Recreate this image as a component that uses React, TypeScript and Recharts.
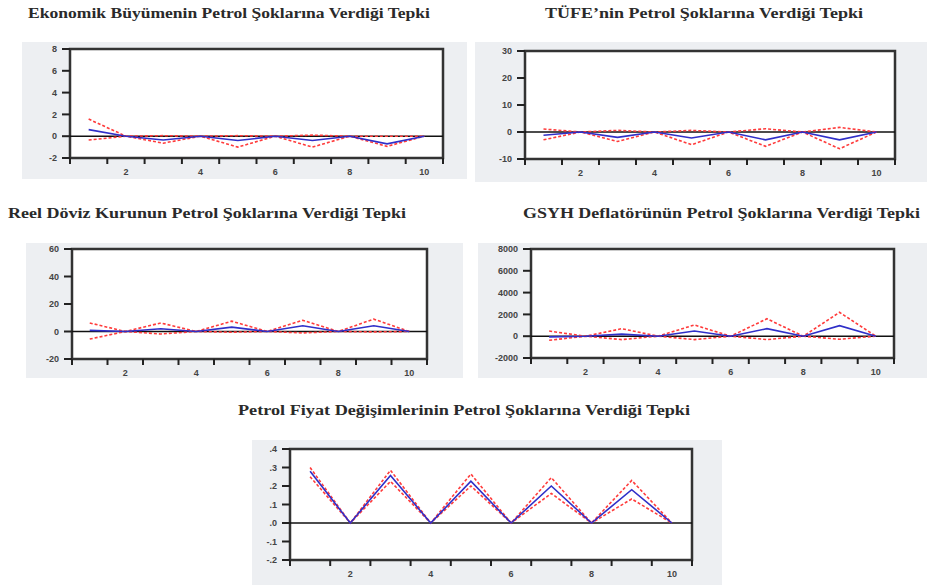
import React from "react";
import {
    LineChart,
    Line,
    XAxis,
    YAxis,
    ReferenceLine,
    ReferenceArea,
} from "recharts";

// periods 1..10
const periods = [1, 2, 3, 4, 5, 6, 7, 8, 9, 10];

// Ekonomik büyüme
const gdpResp = [0.6, 0, -0.35, 0, -0.4, 0, -0.4, 0, -0.7, 0];
const gdpUpper = [1.57, 0, 0.05, 0, 0.05, 0, 0.1, 0, 0.0, 0];
const gdpLower = [-0.35, 0, -0.64, 0, -1.0, 0, -1.0, 0, -0.93, 0];
const gdpTicks = [-2, 0, 2, 4, 6, 8];

// TÜFE
const cpiResp = [-1.2, 0, -2, 0, -2.2, 0, -2.9, 0, -2.9, 0];
const cpiUpper = [1.1, 0, 0.6, 0, 0.6, 0, 1.2, 0, 1.7, 0];
const cpiLower = [-2.9, 0, -3.5, 0, -4.7, 0, -5.3, 0, -6.2, 0];
const cpiTicks = [-10, 0, 10, 20, 30];

// Reel döviz kuru
const reerResp = [0.8, 0, 2, 0, 3.2, 0, 4.2, 0, 4.2, 0];
const reerUpper = [6.2, 0, 6.2, 0, 7.5, 0, 8.2, 0, 9, 0];
const reerLower = [-5.5, 0, -1.8, 0, -0.5, 0, -1, 0, -0.3, 0];
const reerTicks = [-20, 0, 20, 40, 60];

// GSYH deflatörü
const deflResp = [-60, 0, 190, 0, 470, 0, 690, 0, 970, 0];
const deflUpper = [470, 0, 690, 0, 1030, 0, 1600, 0, 2190, 0];
const deflLower = [-375, 0, -310, 0, -310, 0, -310, 0, -280, 0];
const deflTicks = [-2000, 0, 2000, 4000, 6000, 8000];

// Petrol fiyat değişimleri
const oilResp = [0.28, 0, 0.257, 0, 0.226, 0, 0.2, 0, 0.18, 0];
const oilUpper = [0.3, 0, 0.285, 0, 0.265, 0, 0.245, 0, 0.23, 0];
const oilLower = [0.25, 0, 0.225, 0, 0.2, 0, 0.16, 0, 0.13, 0];
const oilTicks = [-0.2, -0.1, 0, 0.1, 0.2, 0.3, 0.4];

const xTicks = [0.5, 1.5, 2, 2.5, 3.5, 4, 4.5, 5.5, 6, 6.5, 7.5, 8, 8.5, 9.5, 10, 10.5];

const BOX_BG = "#edeff2";
const TITLE_FONT = "'Times New Roman', Tinos, 'Liberation Serif', 'DejaVu Serif', serif";

const XTick = (props: any) => {
    const { x, y, payload } = props;
    if (Number.isInteger(payload.value)) {
        return (
            <text x={x} y={y + 17} textAnchor="middle" fontSize={9} fontWeight="bold" fill="#444" fontFamily="Arial, sans-serif">
                {payload.value}
            </text>
        );
    }
    return <line x1={x} x2={x} y1={y} y2={y + 6} stroke="#222" strokeWidth={2} />;
};

type PanelProps = {
    title: string;
    titleX: number;
    titleY: number;
    titleW: number;
    box: { x: number; y: number; w: number; h: number };
    plot: { l: number; t: number; r: number; b: number };
    resp: number[];
    upper: number[];
    lower: number[];
    ticks: number[];
    fmt?: (v: number) => string;
};

function Panel({ title, titleX, titleY, titleW, box, plot, resp, upper, lower, ticks, fmt }: PanelProps) {
    const data = periods.map((t, i) => ({
        t,
        resp: resp[i],
        upper: upper[i],
        lower: lower[i],
    }));
    const yMin = ticks[0];
    const yMax = ticks[ticks.length - 1];

    return (
        <>
            <svg
                style={{ position: "absolute", left: titleX, top: titleY - 12, overflow: "visible" }}
                width={titleW}
                height={24}
            >
                <text
                    x={0}
                    y={17}
                    textLength={titleW}
                    lengthAdjust="spacingAndGlyphs"
                    fontFamily={TITLE_FONT}
                    fontWeight="bold"
                    fontSize={15.5}
                    fill="#2a2a2a"
                >
                    {title}
                </text>
            </svg>
            <div
                style={{
                    position: "absolute",
                    left: box.x,
                    top: box.y,
                    width: box.w,
                    height: box.h,
                    background: BOX_BG,
                }}
            >
                <LineChart
                    width={box.w}
                    height={box.h}
                    data={data}
                    margin={{
                        top: plot.t - box.y,
                        right: box.x + box.w - plot.r,
                        bottom: 0,
                        left: 0,
                    }}
                >
                    <ReferenceArea
                        x1={0.5}
                        x2={10.5}
                        y1={yMin}
                        y2={yMax}
                        fill="#ffffff"
                        fillOpacity={1}
                        stroke="none"
                    />
                    <XAxis
                        dataKey="t"
                        type="number"
                        domain={[0.5, 10.5]}
                        ticks={xTicks}
                        interval={0}
                        tick={<XTick />}
                        tickLine={false}
                        tickSize={0}
                        tickMargin={0}
                        axisLine={false}
                        height={box.y + box.h - plot.b}
                        allowDecimals
                    />
                    <YAxis
                        type="number"
                        domain={[yMin, yMax]}
                        ticks={ticks}
                        interval={0}
                        width={plot.l - box.x}
                        tickSize={8}
                        tickMargin={5}
                        axisLine={false}
                        tickLine={{ stroke: "#222", strokeWidth: 2 }}
                        tick={{ fontSize: 9, fontWeight: "bold", fill: "#444", fontFamily: "Arial, sans-serif" }}
                        tickFormatter={fmt}
                    />
                    <ReferenceLine y={0} stroke="#111" strokeWidth={1.5} />
                    <Line
                        dataKey="upper"
                        stroke="#ff3b3b"
                        strokeWidth={1.6}
                        strokeDasharray="3 2"
                        dot={false}
                        isAnimationActive={false}
                    />
                    <Line
                        dataKey="lower"
                        stroke="#ff3b3b"
                        strokeWidth={1.6}
                        strokeDasharray="3 2"
                        dot={false}
                        isAnimationActive={false}
                    />
                    <Line
                        dataKey="resp"
                        stroke="#2f2fc8"
                        strokeWidth={1.6}
                        dot={false}
                        isAnimationActive={false}
                    />
                    <ReferenceArea
                        x1={0.5}
                        x2={10.5}
                        y1={yMin}
                        y2={yMax}
                        fill="none"
                        stroke="#333"
                        strokeWidth={2.5}
                    />
                </LineChart>
            </div>
        </>
    );
}

const oilFmt = (v: number) => v.toFixed(1).replace("0.", ".");

export default function App() {
    return (
        <div
            style={{
                position: "absolute",
                left: 0,
                top: 0,
                width: 927,
                height: 585,
                background: "#ffffff",
                overflow: "hidden",
            }}
        >
            <Panel
                title="Ekonomik Büyümenin Petrol Şoklarına Verdiği Tepki"
                titleX={28}
                titleY={13}
                titleW={402}
                box={{ x: 22, y: 42, w: 445, h: 137 }}
                plot={{ l: 70, t: 49, r: 443, b: 158 }}
                resp={gdpResp}
                upper={gdpUpper}
                lower={gdpLower}
                ticks={gdpTicks}
            />
            <Panel
                title="TÜFE’nin Petrol Şoklarına Verdiği Tepki"
                titleX={545}
                titleY={13}
                titleW={318}
                box={{ x: 475, y: 42, w: 452, h: 140 }}
                plot={{ l: 525, t: 51, r: 895, b: 159 }}
                resp={cpiResp}
                upper={cpiUpper}
                lower={cpiLower}
                ticks={cpiTicks}
            />
            <Panel
                title="Reel Döviz Kurunun Petrol Şoklarına Verdiği Tepki"
                titleX={8}
                titleY={213}
                titleW={398}
                box={{ x: 26, y: 243, w: 437, h: 135 }}
                plot={{ l: 72, t: 249, r: 427, b: 359 }}
                resp={reerResp}
                upper={reerUpper}
                lower={reerLower}
                ticks={reerTicks}
            />
            <Panel
                title="GSYH Deflatörünün Petrol Şoklarına Verdiği Tepki"
                titleX={523}
                titleY={213}
                titleW={397}
                box={{ x: 478, y: 243, w: 449, h: 135 }}
                plot={{ l: 531, t: 249, r: 894, b: 358 }}
                resp={deflResp}
                upper={deflUpper}
                lower={deflLower}
                ticks={deflTicks}
            />
            <Panel
                title="Petrol Fiyat Değişimlerinin Petrol Şoklarına Verdiği Tepki"
                titleX={238}
                titleY={410}
                titleW={452}
                box={{ x: 252, y: 440, w: 470, h: 145 }}
                plot={{ l: 290, t: 449, r: 692, b: 560 }}
                resp={oilResp}
                upper={oilUpper}
                lower={oilLower}
                ticks={oilTicks}
                fmt={oilFmt}
            />
        </div>
    );
}
